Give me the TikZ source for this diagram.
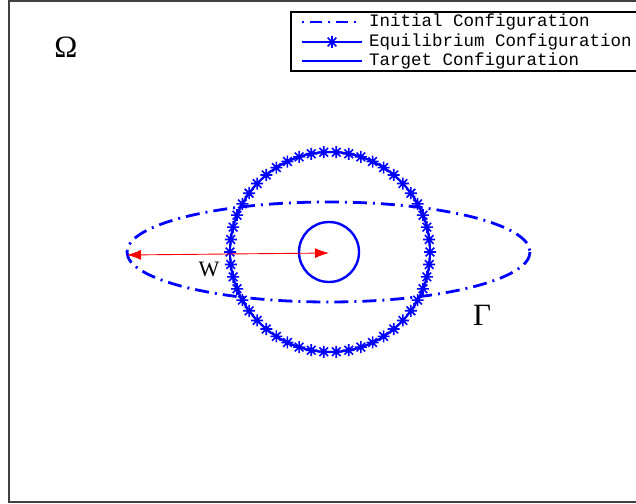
\documentclass[tikz,border=0pt]{standalone}
\usepackage{fontspec}
\setmainfont{Liberation Serif}
\newfontfamily\legfont{Liberation Mono}
\usetikzlibrary{arrows.meta,calc}
\definecolor{mblue}{RGB}{0,0,255}
\tikzset{
  frameline/.style={draw=black!75, line width=1.4bp},
  initcfg/.style={draw=mblue, line width=2.8bp, dash pattern=on 14bp off 6bp on 2bp off 6bp},
  eqcfg/.style={draw=mblue, line width=2.2bp},
  tgtcfg/.style={draw=mblue, line width=2.4bp},
  eqstar/.pic={\draw[mblue, line width=1.6bp] (-6,0)--(6,0) (0,-6)--(0,6) (-4.3,-4.3)--(4.3,4.3) (-4.3,4.3)--(4.3,-4.3);},
  legtext/.style={anchor=west, inner sep=0pt, font=\legfont\fontsize{17.5bp}{18bp}\selectfont},
  bigsym/.style={inner sep=0pt, font=\fontsize{31bp}{31bp}\selectfont},
  wlab/.style={inner sep=0pt, font=\fontsize{22bp}{22bp}\selectfont},
  redarrow/.style={draw=red, line width=0.9bp, {Latex[length=14bp,width=10bp]}-{Latex[length=14bp,width=10bp]}}
}
\begin{document}
\begin{tikzpicture}[x=1bp,y=-1bp]
\useasboundingbox (0,0) rectangle (636,504);
\fill[white] (0,0) rectangle (636,504);
% axes frame
\draw[frameline] (640,1) -- (9,1) -- (9,502) -- (640,502);
% initial configuration (ellipse)
\draw[initcfg] (328.5,252) ellipse [x radius=201.5, y radius=50];
\coordinate (eL) at (127,255);
% equilibrium configuration
\draw[eqcfg] (330,252) circle [radius=100];
\foreach \i in {0,...,49} {
  \pic at ($(330,252)+(\i*7.2:100)$) {eqstar};
}
% target configuration
\draw[tgtcfg] (329,252) circle [radius=30];
\coordinate (c) at (329,253);
% arrow W
\draw[redarrow] (eL) -- (c);
\node[wlab] (w) at (209,269) {W};
% labels
\node[bigsym] (omega) at (66,47) {Ω};
\node[bigsym] (gamma) at (482,315) {Γ};
% legend
\draw[black, line width=1.3bp, fill=white] (291,12) rectangle (640,71);
\draw[initcfg, line width=2.6bp, dash pattern=on 2bp off 6bp on 12bp off 6bp] (302,22) -- (362,22);
\draw[eqcfg] (302,42) -- (362,42);
\pic at (332,42) {eqstar};
\draw[tgtcfg] (302,61) -- (362,61);
\node[legtext] (l1) at (369,22) {Initial Configuration};
\node[legtext] (l2) at (369,42) {Equilibrium Configuration};
\node[legtext] (l3) at (369,61) {Target Configuration};
\end{tikzpicture}
\end{document}
